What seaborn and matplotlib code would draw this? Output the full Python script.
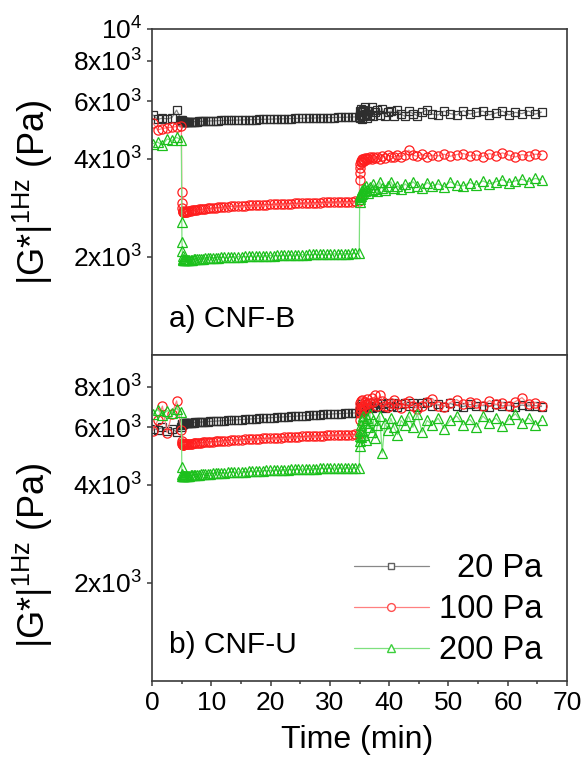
import matplotlib
matplotlib.use("Agg")
import numpy as np
import pandas as pd
import matplotlib.pyplot as plt
import seaborn as sns
from matplotlib.ticker import FixedLocator, NullLocator, MultipleLocator, FixedFormatter

# ---------------- data ----------------
t_phase1 = [0.15, 0.95, 1.75, 2.55, 3.35, 4.15, 4.95]
t_phase2 = [5.02, 5.05, 5.09, 5.14, 5.2, 5.28, 5.37, 5.47, 5.6, 5.75,
            5.92, 6.1, 6.3, 6.52, 6.76, 7.02, 7.3, 7.6, 7.92, 8.26,
            8.62, 9.0, 9.4, 9.82, 10.26, 10.72, 11.2, 11.7, 12.22, 12.76,
            13.32, 13.9, 14.5, 15.1, 15.7, 16.3, 16.9, 17.5, 18.1, 18.7,
            19.3, 19.9, 20.5, 21.1, 21.7, 22.3, 22.9, 23.5, 24.1, 24.7,
            25.3, 25.9, 26.5, 27.1, 27.7, 28.3, 28.9, 29.5, 30.1, 30.7,
            31.3, 31.9, 32.5, 33.1, 33.7, 34.3, 34.95]
t_phase3 = [35.02, 35.05, 35.09, 35.14, 35.2, 35.28, 35.37, 35.48, 35.6, 35.74,
            35.9, 36.08, 36.28, 36.5, 36.75, 37.02, 37.32, 37.65, 38.0, 38.4,
            38.82, 39.28, 39.76, 40.28, 40.82, 41.4, 42.0, 42.65, 43.3, 44.0,
            44.75, 45.55, 46.4, 47.3, 48.25, 49.25, 50.3, 51.4, 52.5, 53.6,
            54.7, 55.8, 56.9, 58.0, 59.1, 60.2, 61.3, 62.4, 63.5, 64.6,
            65.7]
time_min = t_phase1 + t_phase2 + t_phase3

stress_labels = ["20 Pa", "100 Pa", "200 Pa"]
panel_labels = ["a) CNF-B", "b) CNF-U"]

# a) CNF-B
cnfb_20 = [5450, 5280, 5330, 5300, 5350, 5640, 5260,
           5240, 5220, 5210, 5200, 5195, 5190, 5185, 5185, 5180, 5180,
           5180, 5185, 5185, 5190, 5190, 5195, 5200, 5200, 5205, 5210,
           5210, 5215, 5220, 5225, 5225, 5230, 5235, 5240, 5240, 5245,
           5250, 5255, 5255, 5260, 5265, 5270, 5270, 5275, 5280, 5285,
           5285, 5290, 5295, 5300, 5300, 5305, 5310, 5310, 5315, 5320,
           5320, 5325, 5330, 5330, 5335, 5340, 5340, 5345, 5350, 5350,
           5355, 5360, 5360, 5365, 5370, 5375, 5380,
           5380, 5450, 5600, 5350, 5700, 5450, 5550, 5300, 5650, 5400,
           5750, 5500, 5350, 5600, 5450, 5750, 5400, 5550, 5650, 5450,
           5700, 5400, 5550, 5600, 5420, 5650, 5480, 5400, 5600, 5500,
           5420, 5550, 5650, 5480, 5450, 5600, 5500, 5450, 5620, 5480,
           5550, 5600, 5450, 5520, 5600, 5450, 5550, 5500, 5600, 5480,
           5560]
cnfb_100 = [5150, 4900, 4950, 4980, 5000, 5020, 5050,
            3160, 2930, 2820, 2770, 2750, 2740, 2740, 2740, 2745, 2750,
            2755, 2760, 2765, 2770, 2775, 2780, 2785, 2790, 2795, 2800,
            2805, 2810, 2815, 2820, 2825, 2830, 2835, 2840, 2845, 2850,
            2855, 2860, 2865, 2870, 2873, 2876, 2880, 2883, 2886, 2890,
            2893, 2896, 2900, 2903, 2906, 2909, 2912, 2915, 2918, 2920,
            2923, 2926, 2928, 2931, 2933, 2936, 2938, 2941, 2943, 2945,
            2948, 2950, 2952, 2954, 2956, 2958, 2960,
            3450, 3610, 3750, 3850, 3900, 3950, 3920, 3980, 4000, 3950,
            4020, 3980, 4030, 3990, 4050, 4000, 4060, 4010, 4050, 4000,
            4080, 4030, 4100, 4060, 4050, 4100, 4060, 4120, 4250, 4100,
            4070, 4130, 4060, 4100, 4080, 4130, 4070, 4120, 4150, 4080,
            4110, 4060, 4150, 4090, 4170, 4100, 4050, 4120, 4080, 4130,
            4120]
cnfb_200 = [4450, 4500, 4400, 4600, 4550, 4650, 4570,
            2560, 2220, 2090, 2010, 1975, 1960, 1955, 1950, 1950, 1950,
            1952, 1955, 1957, 1960, 1962, 1965, 1967, 1970, 1972, 1975,
            1977, 1980, 1982, 1984, 1986, 1988, 1990, 1992, 1994, 1996,
            1998, 2000, 2002, 2004, 2006, 2008, 2010, 2012, 2013, 2015,
            2016, 2018, 2019, 2021, 2022, 2024, 2025, 2027, 2028, 2030,
            2031, 2032, 2034, 2035, 2036, 2038, 2039, 2040, 2042, 2043,
            2044, 2045, 2047, 2048, 2049, 2050, 2052,
            2950, 3000, 3050, 3100, 3080, 3150, 3120, 3200, 3150, 3250,
            3180, 3300, 3200, 3150, 3280, 3200, 3350, 3220, 3180, 3400,
            3250, 3200, 3300, 3400, 3250, 3300, 3220, 3350, 3280, 3400,
            3300, 3250, 3380, 3300, 3350, 3280, 3400, 3320, 3300, 3380,
            3320, 3420, 3350, 3400, 3450, 3380, 3420, 3460, 3400, 3480,
            3450]

# b) CNF-U
cnfu_20 = [5950, 5900, 6000, 5850, 5950, 5800, 6000,
           6100, 6130, 6150, 6155, 6160, 6162, 6165, 6168, 6170, 6175,
           6180, 6185, 6190, 6195, 6200, 6205, 6210, 6215, 6220, 6228,
           6235, 6240, 6248, 6255, 6262, 6270, 6278, 6285, 6295, 6303,
           6312, 6320, 6330, 6340, 6350, 6360, 6370, 6380, 6390, 6400,
           6410, 6420, 6430, 6440, 6450, 6460, 6470, 6480, 6490, 6500,
           6510, 6520, 6530, 6540, 6550, 6560, 6570, 6580, 6590, 6600,
           6608, 6615, 6622, 6630, 6637, 6644, 6650,
           6700, 6850, 6750, 6950, 6800, 7000, 6850, 7050, 6900, 6800,
           7000, 6900, 7050, 6950, 7100, 6900, 7000, 6950, 7100, 6950,
           7050, 6900, 7150, 7000, 7100, 6950, 7050, 7150, 7000, 7100,
           6950, 7100, 7200, 7000, 7050, 6950, 7100, 7000, 6950, 7050,
           6980, 7000, 6950, 7050, 6980, 7000, 6950, 7020, 6980, 7000,
           6950]
cnfu_100 = [5860, 6300, 6970, 5780, 6600, 7230, 5900,
            5450, 5360, 5320, 5310, 5310, 5312, 5315, 5318, 5322, 5326,
            5330, 5335, 5340, 5346, 5352, 5358, 5365, 5372, 5380, 5387,
            5395, 5402, 5410, 5418, 5426, 5434, 5442, 5450, 5458, 5466,
            5474, 5482, 5490, 5498, 5506, 5514, 5522, 5530, 5538, 5546,
            5554, 5562, 5570, 5577, 5584, 5591, 5598, 5605, 5612, 5618,
            5624, 5630, 5636, 5642, 5648, 5654, 5660, 5665, 5670, 5675,
            5680, 5685, 5690, 5695, 5700, 5705, 5710,
            6300, 6650, 6900, 7100, 6800, 7250, 6950, 7300, 7000, 6850,
            7200, 7050, 7350, 6900, 7100, 7400, 7200, 7550, 7000, 7550,
            7250, 7000, 6950, 7150, 7300, 7050, 6900, 7100, 7250, 7000,
            6850, 7000, 7200, 7350, 7000, 6950, 7150, 7300, 7050, 7200,
            7100, 7000, 7250, 7050, 7150, 7000, 7200, 7400, 7050, 7150,
            7000]
cnfu_200 = [6600, 6800, 6550, 6750, 6650, 6850, 6700,
            4520, 4320, 4260, 4245, 4240, 4240, 4242, 4245, 4248, 4252,
            4256, 4260, 4265, 4270, 4275, 4280, 4285, 4290, 4296, 4302,
            4308, 4314, 4320, 4326, 4332, 4338, 4344, 4350, 4356, 4362,
            4368, 4374, 4380, 4386, 4392, 4398, 4404, 4410, 4415, 4420,
            4425, 4430, 4435, 4440, 4445, 4450, 4454, 4458, 4462, 4466,
            4470, 4474, 4478, 4482, 4486, 4489, 4492, 4495, 4498, 4500,
            4502, 4504, 4506, 4508, 4510, 4512, 4515,
            5250, 5450, 5650, 5850, 6100, 5600, 6300, 5900, 6500, 5700,
            6200, 5500, 6400, 6000, 6600, 5800, 6300, 5550, 6100, 6500,
            5000, 6200, 5900, 6400, 6000, 5700, 6300, 6100, 6500, 6000,
            6600, 5800, 6300, 6100, 6400, 5950, 6300, 6500, 6100, 6350,
            6000, 6500, 6200, 6400, 6050, 6350, 6600, 6200, 6400, 6100,
            6300]

top_ticks = [2000, 4000, 6000, 8000, 10000]
top_ticklabels = [r"2x10$^{\mathregular{3}}$", r"4x10$^{\mathregular{3}}$",
                  r"6x10$^{\mathregular{3}}$", r"8x10$^{\mathregular{3}}$",
                  r"10$^{\mathregular{4}}$"]
bot_ticks = [2000, 4000, 6000, 8000]
bot_ticklabels = top_ticklabels[:4]

# ---------------- build tidy table ----------------
rows = []
for panel, series in zip(panel_labels, [[cnfb_20, cnfb_100, cnfb_200],
                                         [cnfu_20, cnfu_100, cnfu_200]]):
    for lab, vals in zip(stress_labels, series):
        assert len(vals) == len(time_min), (panel, lab, len(vals))
        for t, v in zip(time_min, vals):
            rows.append({"panel": panel, "stress": lab, "time": t, "G": v})
df = pd.DataFrame(rows)

# ---------------- style ----------------
sns.set_style("ticks")
plt.rcParams['font.family'] = ['Liberation Sans', 'DejaVu Sans']
plt.rcParams['text.color'] = 'black'
plt.rcParams['axes.labelcolor'] = 'black'
plt.rcParams['xtick.color'] = 'black'
plt.rcParams['ytick.color'] = 'black'
plt.rcParams['mathtext.fontset'] = 'custom'
plt.rcParams['mathtext.rm'] = 'Liberation Sans'
plt.rcParams['mathtext.it'] = 'Liberation Sans:italic'
plt.rcParams['mathtext.bf'] = 'Liberation Sans:bold'

styles = {
    "20 Pa":  dict(marker="s", ms=5.9, mec="#2e2e2e", lc="#888888", lms=5.0, lmec="#606060"),
    "100 Pa": dict(marker="o", ms=6.6, mec="#ff1e1e", lc="#ff8080", lms=5.6, lmec="#ff5050"),
    "200 Pa": dict(marker="^", ms=7.2, mec="#1cc01c", lc="#7ee07e", lms=6.2, lmec="#3ccf3c"),
}
spine_col = "#3a3a3a"

fig = plt.figure(figsize=(5.87, 7.61), dpi=100)
ax_top = fig.add_axes([0.259, 0.5335, 0.707, 0.4284])
ax_bot = fig.add_axes([0.259, 0.1051, 0.707, 0.4284])

for ax, panel, ticks, tlabels in [(ax_top, panel_labels[0], top_ticks, top_ticklabels),
                                  (ax_bot, panel_labels[1], bot_ticks, bot_ticklabels)]:
    ax.set_yscale("log")
    for lab in stress_labels:
        st = styles[lab]
        sub = df[(df.panel == panel) & (df.stress == lab)]
        sns.lineplot(data=sub, x="time", y="G", ax=ax, color=st["lc"],
                     marker=st["marker"], markersize=st["ms"],
                     markerfacecolor="none", markeredgecolor=st["mec"],
                     markeredgewidth=0.9, linewidth=0.9,
                     estimator=None, errorbar=None, sort=False, legend=False)
    ax.set_xlim(0, 70)
    ax.set_ylim(1000, 10000)
    ax.xaxis.set_major_locator(MultipleLocator(10))
    ax.xaxis.set_minor_locator(MultipleLocator(5))
    ax.yaxis.set_major_locator(FixedLocator(ticks))
    ax.yaxis.set_major_formatter(FixedFormatter(tlabels))
    ax.yaxis.set_minor_locator(NullLocator())
    ax.tick_params(which="both", direction="out", top=False, right=False,
                   width=1.1, color=spine_col, labelsize=19, labelcolor="black")
    ax.tick_params(which="major", length=3.6, pad=3.6)
    ax.tick_params(which="minor", length=2.2)
    for sp in ax.spines.values():
        sp.set_color(spine_col)
        sp.set_linewidth(1.2)
    ax.set_ylabel(r"|G*|$^{\mathregular{1Hz}}$ (Pa)", fontsize=26, color="black")
    ax.set_xlabel("")
    ax.text(0.04, 0.085, panel, transform=ax.transAxes, fontsize=21.5,
            ha="left", va="baseline", color="black")

ax_top.tick_params(labelbottom=False)
ax_top.yaxis.set_label_coords(-0.234, 0.5)
ax_bot.yaxis.set_label_coords(-0.234, 0.385)
ax_bot.set_xlabel("Time (min)", fontsize=23, color="black")
ax_bot.xaxis.set_label_coords(0.495, -0.135)

# legend (drawn in axes coordinates, right-aligned text)
leg_y = [0.352, 0.226, 0.101]
for lab, y in zip(stress_labels, leg_y):
    st = styles[lab]
    ax_bot.plot([0.487, 0.667], [y, y], transform=ax_bot.transAxes,
                color=st["lc"], lw=0.9, clip_on=False)
    ax_bot.plot([0.577], [y], transform=ax_bot.transAxes, marker=st["marker"],
                ms=st["lms"], mfc="white", mec=st["lmec"], mew=1.0, clip_on=False)
    ax_bot.text(0.94, y - 0.034, lab, transform=ax_bot.transAxes, fontsize=23.5,
                ha="right", va="baseline", color="black")

fig.savefig("out.png", dpi=100)
